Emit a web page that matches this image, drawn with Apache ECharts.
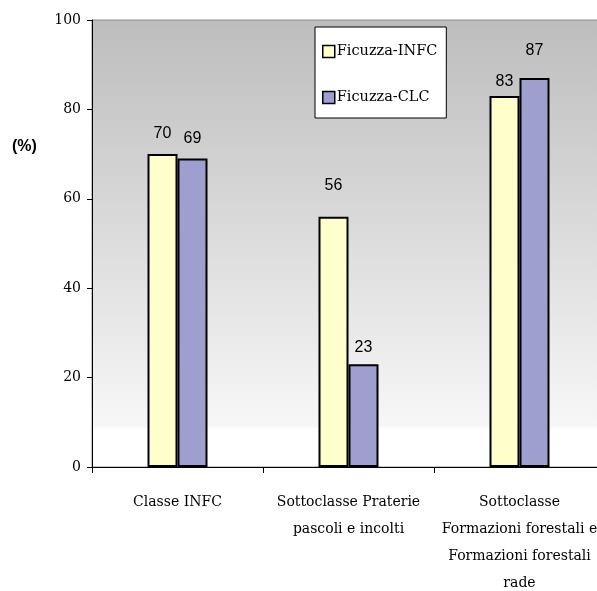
<!DOCTYPE html>
<html>
<head>
<meta charset="utf-8">
<script src="https://cdn.jsdelivr.net/npm/echarts@6/dist/echarts.min.js"></script>
<style>
  html, body { margin: 0; padding: 0; background: #fff; }
  #chart { width: 597px; height: 591px; }
</style>
</head>
<body>
<div id="chart"></div>
<script>
// Categories (axis labels, wrapped as in the layout)
const categories = [
  'Classe INFC',
  'Sottoclasse Praterie\npascoli e incolti',
  'Sottoclasse\nFormazioni forestali e\nFormazioni forestali\nrade'
];
const seriesNames = ['Ficuzza-INFC', 'Ficuzza-CLC'];
const infcValues = [70, 56, 83];
const clcValues = [69, 23, 87];
const yTicks = [0, 20, 40, 60, 80, 100];

// gap between each value label and its bar top
const infcLabelGap = [13, 23, 6];
const clcLabelGap = [12, 9, 20];

const serif = '"DejaVu Serif", "Liberation Serif", serif';
const sans = '"Liberation Sans", Arial, sans-serif';

function barData(values, gaps) {
  return values.map((v, i) => ({ value: v, label: { distance: gaps[i] } }));
}

const chart = echarts.init(document.getElementById('chart'));
chart.setOption({
  animation: false,
  backgroundColor: '#fff',
  grid: {
    left: 92, right: -8, top: 20, bottom: 124,
    outerBoundsMode: 'none',
    containLabel: false,
    show: true,
    borderColor: '#8a8a8a',
    borderWidth: 1,
    backgroundColor: {
      type: 'linear', x: 0, y: 0, x2: 0, y2: 1,
      colorStops: [
        { offset: 0, color: '#bdbdbd' },
        { offset: 0.91, color: '#f7f7f7' },
        { offset: 0.912, color: '#ffffff' },
        { offset: 1, color: '#ffffff' }
      ]
    }
  },
  legend: {
    orient: 'vertical',
    left: 315, top: 27,
    backgroundColor: '#fff',
    borderColor: '#000',
    borderWidth: 1,
    padding: [17, 9, 13, 7],
    itemGap: 31,
    itemWidth: 12, itemHeight: 12,
    icon: 'rect',
    itemStyle: { borderColor: '#000', borderWidth: 1.5 },
    textStyle: { fontFamily: serif, fontSize: 14.5, color: '#000', padding: [0, 0, 0, -3] },
    data: seriesNames
  },
  graphic: [{
    type: 'text', left: 12, top: 139,
    style: { text: '(%)', font: 'bold 16px ' + sans, fill: '#000' }
  }],
  xAxis: {
    type: 'category',
    data: categories,
    axisLine: { lineStyle: { color: '#000', width: 1 } },
    axisTick: { show: true, length: 6, interval: 0, lineStyle: { color: '#000' } },
    axisLabel: {
      interval: 0, margin: 22, color: '#000',
      fontFamily: serif, fontSize: 14, lineHeight: 27
    },
    splitLine: { show: false }
  },
  yAxis: {
    type: 'value',
    min: yTicks[0], max: yTicks[yTicks.length - 1], interval: 20,
    axisLine: { show: true, lineStyle: { color: '#000', width: 1 } },
    axisTick: { show: true, length: 5, lineStyle: { color: '#000' } },
    axisLabel: { margin: 11, color: '#000', fontFamily: serif, fontSize: 14 },
    splitLine: { show: false }
  },
  series: [
    {
      name: seriesNames[0], type: 'bar', barWidth: 30, barGap: '0%',
      data: barData(infcValues, infcLabelGap),
      itemStyle: { color: '#ffffcc', borderColor: '#000', borderWidth: 2 },
      label: { show: true, position: 'top', color: '#000', fontFamily: sans, fontSize: 16 }
    },
    {
      name: seriesNames[1], type: 'bar', barWidth: 30, barGap: '0%',
      data: barData(clcValues, clcLabelGap),
      itemStyle: { color: '#9e9ecf', borderColor: '#000', borderWidth: 2 },
      label: { show: true, position: 'top', color: '#000', fontFamily: sans, fontSize: 16 }
    }
  ]
});
</script>
</body>
</html>
